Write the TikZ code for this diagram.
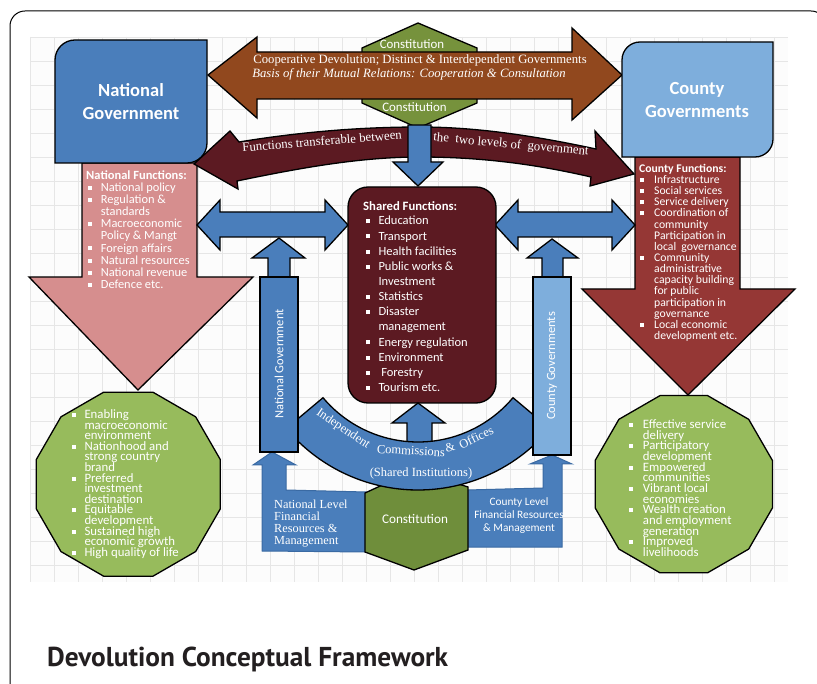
\documentclass[tikz,border=0pt]{standalone}
\usepackage{fontspec}
\setmainfont{Liberation Serif}
\newfontfamily\calfont{Carlito}
\newfontfamily\titlefont{PT Sans}
\usetikzlibrary{shapes.geometric}
\definecolor{nblue}{HTML}{4A7EBB}
\definecolor{nblueD}{HTML}{3A6AA3}
\definecolor{cblue}{HTML}{7EAEDC}
\definecolor{brownA}{HTML}{91481E}
\definecolor{oliveA}{HTML}{76923C}
\definecolor{oliveB}{HTML}{6F8E3B}
\definecolor{maroonA}{HTML}{5C1A22}
\definecolor{pinkA}{HTML}{D68E8E}
\definecolor{redA}{HTML}{953735}
\definecolor{lgreen}{HTML}{97BB5C}
\definecolor{gridc}{HTML}{E6E6E6}
\definecolor{titlec}{HTML}{231F20}
\newlength\bw
\newcommand\bu{\makebox[\bw][l]{\rule[1.6pt]{4pt}{4pt}}}
\newcommand\ii{\hspace*{\bw}}
\newcommand\fs{\rule{0pt}{10.5pt}}
\tikzset{
  shp/.style={draw=black, line width=1.3pt, line join=miter},
  lst/.style={anchor=north west, inner sep=0pt, align=left, text=white},
  wt/.style={text=white, inner sep=0pt},
  arcword/.style={wt, anchor=base, font=\fontsize{12.5}{14}\selectfont},
}
\begin{document}
\begin{tikzpicture}[x=1pt,y=-1pt]
\path[use as bounding box] (0,0) rectangle (817,684);
\clip (0,0) rectangle (817,684);
\fill[white] (0,0) rectangle (817,684);
% frame
\draw[line width=1pt, rounded corners=15pt] (10,11) rectangle (826,700);
% grid
\fill[black!1] (30,37) rectangle (788,582);
\foreach \gx in {30,54,...,786} \draw[gridc, line width=0.6pt] (\gx,37) -- (\gx,582);
\foreach \gy in {37,61,...,581} \draw[gridc, line width=0.6pt] (30,\gy) -- (788,\gy);

% big down arrows
\filldraw[shp, fill=pinkA] (82,163) -- (197,163) -- (197,277) -- (253,277) -- (138,390) -- (29,277) -- (82,277) -- cycle;
\filldraw[shp, fill=redA] (635,157) -- (740,157) -- (740,289) -- (795,289) -- (688,395) -- (582,289) -- (635,289) -- cycle;

% top constitution hexagon and brown double arrow
\filldraw[shp, fill=oliveA] (418,23) -- (477,48) -- (477,103) -- (418,128) -- (362,103) -- (362,48) -- cycle;
\filldraw[shp, fill=brownA] (208,75) -- (257,37) -- (257,52) -- (572,52) -- (572,28) -- (622,75) -- (572,120) -- (572,99) -- (257,99) -- (257,118) -- cycle;

% government boxes
\filldraw[shp, fill=nblue] (55,163) -- (55,60) arc[start angle=180, end angle=270, radius=20] -- (207,40) -- (207,143) arc[start angle=0, end angle=90, radius=20] -- cycle;
\filldraw[shp, fill=cblue] (622,157) -- (622,60) arc[start angle=180, end angle=270, radius=18] -- (773,42) -- (773,139) arc[start angle=0, end angle=90, radius=18] -- cycle;

% curved transferable arrow
\filldraw[shp, fill=maroonA] (194,164) -- (230,131) -- (239,142) .. controls (300,132) and (360,127) .. (420,127) .. controls (480,127) and (540,137) .. (596,149) -- (595,131) -- (634,174) -- (590,186) -- (591,177) .. controls (535,164) and (480,157) .. (420,157) .. controls (360,157) and (300,168) .. (237,181) -- (238,189) -- cycle;

% blue down arrow
\filldraw[shp, fill=nblue] (408,125) -- (431,125) -- (431,162) -- (443,162) -- (418,186) -- (393,162) -- (408,162) -- cycle;

% horizontal double arrows
\filldraw[shp, fill=nblue] (197,225) -- (220,200) -- (220,212) -- (325,212) -- (325,200) -- (348,225) -- (325,250) -- (325,237) -- (220,237) -- (220,250) -- cycle;
\filldraw[shp, fill=nblue] (495,225) -- (518,200) -- (518,212) -- (612,212) -- (612,200) -- (635,225) -- (612,250) -- (612,237) -- (518,237) -- (518,250) -- cycle;

% shared box
\filldraw[shp, fill=maroonA, rounded corners=20pt] (348,187) rectangle (496,403);

% small up arrows above vertical bars
\filldraw[shp, fill=nblue] (268,279) -- (268,258) -- (252,258) -- (279,238) -- (305,258) -- (290,258) -- (290,279) -- cycle;
\filldraw[shp, fill=nblue] (542,279) -- (542,258) -- (527,258) -- (552,239) -- (578,258) -- (563,258) -- (563,279) -- cycle;

% financial resources shapes
\filldraw[fill=nblue, draw=nblueD, line width=1pt] (262,551) -- (262,465) -- (253,465) -- (272,452) -- (296,465) -- (286,465) -- (286,490) -- (366,492) -- (366,552) -- cycle;
\filldraw[fill=nblue, draw=nblueD, line width=1pt] (467,490) -- (543,488) -- (543,464) -- (530,464) -- (552,455) -- (572,464) -- (562,464) -- (562,547) -- (467,547) -- cycle;

% bottom constitution hexagon
\filldraw[shp, fill=oliveB] (365,493) -- (365,552) -- (414,570) -- (468,550) -- (468,487) -- (415,470) -- cycle;

% center small up arrow
\filldraw[shp, fill=nblue] (407,448) -- (407,423) -- (392,423) -- (418,403) -- (445,423) -- (432,423) -- (432,448) -- cycle;

% independent commissions band
\filldraw[shp, fill=nblue] ([shift={(418,318)}]140:124) arc[start angle=140, end angle=40, radius=124] -- ([shift={(418,318)}]40:172) arc[start angle=40, end angle=140, radius=172] -- cycle;

% vertical bars
\filldraw[shp, fill=nblue] (260,277) rectangle (298,452);
\filldraw[shp, fill=cblue] (533,277) rectangle (571,455);

% outcome polygons
\node[regular polygon, regular polygon sides=12, minimum size=190.5pt, inner sep=0pt, shp, fill=lgreen] (natout) at (128.3,484.2) {};
\node[regular polygon, regular polygon sides=12, minimum size=183.5pt, inner sep=0pt, shp, fill=lgreen] (couout) at (683.8,484.2) {};

% ---------- texts ----------
\node[wt, anchor=base, font=\calfont\bfseries\fontsize{18.5}{22}\selectfont] (ng1) at (131,96.7) {National};
\node[wt, anchor=base, font=\calfont\bfseries\fontsize{18.5}{22}\selectfont] (ng2) at (131,120) {Government};
\node[wt, anchor=base, font=\calfont\bfseries\fontsize{18.5}{22}\selectfont] (cg1) at (697,95) {County};
\node[wt, anchor=base, font=\calfont\bfseries\fontsize{18.5}{22}\selectfont] (cg2) at (697,117.5) {Governments};

\node[wt, anchor=base, font=\calfont\fontsize{12.9}{14}\selectfont] (k1) at (412,48.3) {Constitution};
\node[wt, anchor=base, font=\calfont\fontsize{12.9}{14}\selectfont] (k2) at (414.5,112) {Constitution};
\node[wt, anchor=base, font=\fontsize{12.7}{14}\selectfont] (c1) at (420,63.5) {Cooperative Devolution; Distinct \& Interdependent Governments};
\node[wt, anchor=base, font=\itshape\fontsize{12.7}{14}\selectfont] (c2) at (409,77.3) {Basis of their Mutual Relations: Cooperation \& Consultation};

\node[wt, rotate=4.7, font=\fontsize{12.8}{14}\selectfont] (ft1) at (322,141) {Functions transferable between};
\node[wt, rotate=-5.3, font=\fontsize{12.8}{14}\selectfont] (ft2) at (511,145) {the\ \ two levels of\ \ government};

% words on the commissions band
\node[arcword, rotate=-34] (w1) at ([shift={(418,318)}]124:137) {Independent};
\node[arcword, rotate=-3] (w2) at ([shift={(418,318)}]93:137) {Commissions};
\node[arcword, rotate=14] (w3) at ([shift={(418,318)}]76:137) {\&};
\node[arcword, rotate=26] (w4) at ([shift={(418,318)}]64:137) {Offices};

\node[wt, anchor=base west, font=\calfont\bfseries\fontsize{12.5}{13}\selectfont] (nfh) at (86,179.3) {National Functions:};
\node[lst, font={\calfont\fontsize{12.4}{12.1}\selectfont\lineskiplimit=-100pt\setlength\bw{13.4pt}}] (nfl) at (87.3,180.9)
  {\fs\bu National policy\\ \bu Regulation \&\\ \ii standards\\ \bu Macroeconomic\\ \ii Policy \& Mangt\\ \bu Foreign affairs\\ \bu Natural resources\\ \bu National revenue\\ \bu Defence etc.};

\node[wt, anchor=base west, font=\calfont\bfseries\fontsize{11.7}{12}\selectfont] (cfh) at (639,172.3) {County Functions:};
\node[lst, font={\calfont\fontsize{11.7}{11.13}\selectfont\lineskiplimit=-100pt\setlength\bw{14pt}}] (cfl) at (640,172.9)
  {\fs\bu Infrastructure\\ \bu Social services\\ \bu Service delivery\\ \bu Coordination of\\ \ii community\\ \ii Participation in\\ \ii local\ \ governance\\ \bu Community\\ \ii administrative\\ \ii capacity building\\ \ii for public\\ \ii participation in\\ \ii governance\\ \bu Local economic\\ \ii development etc.};

\node[wt, anchor=base west, font=\calfont\bfseries\fontsize{12.7}{13}\selectfont] (sfh) at (363,210.7) {Shared Functions:};
\node[lst, font={\calfont\fontsize{12.5}{15.15}\selectfont\lineskiplimit=-100pt\setlength\bw{12.3pt}}] (sfl) at (366,214.2)
  {\fs\bu Education\\ \bu Transport\\ \bu Health facilities\\ \bu Public works \&\\ \ii Investment\\ \bu Statistics\\ \bu Disaster\\ \ii management\\ \bu Energy regulation\\ \bu Environment\\ \bu \ Forestry\\ \bu Tourism etc.};

\node[lst, font={\calfont\fontsize{12.8}{10.6}\selectfont\lineskiplimit=-100pt\setlength\bw{12.8pt}}] (nol) at (71.5,407.8)
  {\fs\bu Enabling\\ \ii macroeconomic\\ \ii environment\\ \bu Nationhood and\\ \ii strong country\\ \ii brand\\ \bu Preferred\\ \ii investment\\ \ii destination\\ \bu Equitable\\ \ii development\\ \bu Sustained high\\ \ii economic growth\\ \bu High quality of life};

\node[lst, font={\calfont\fontsize{12.8}{10.67}\selectfont\lineskiplimit=-100pt\setlength\bw{13.7pt}}] (col) at (629,417.8)
  {\fs\bu Effective service\\ \ii delivery\\ \bu Participatory\\ \ii development\\ \bu Empowered\\ \ii communities\\ \bu Vibrant local\\ \ii economies\\ \bu Wealth creation\\ \ii and employment\\ \ii generation\\ \bu Improved\\ \ii livelihoods};

\node[wt, rotate=90, font=\calfont\fontsize{12.5}{14}\selectfont] (ngv) at (279,364) {National Government};
\node[wt, rotate=90, font=\calfont\fontsize{12.5}{14}\selectfont] (cgv) at (552,366) {County Governments};

\node[wt, anchor=base, font=\fontsize{12.5}{14}\selectfont] (si) at (421,477) {(Shared Institutions)};
\node[wt, anchor=base, font=\calfont\fontsize{13.2}{14}\selectfont] (k3) at (415,523) {Constitution};

\node[lst, font={\fontsize{12.3}{12.3}\selectfont\lineskiplimit=-100pt}] (finl) at (274,497.3)
  {\fs National Level\\Financial\\Resources \&\\Management};
\node[anchor=north, inner sep=0pt, align=center, text=white, font={\calfont\fontsize{11.3}{13}\selectfont\lineskiplimit=-100pt}] (finr) at (519,495.2)
  {\fs County Level\\Financial Resources\\\& Management};

\node[anchor=base west, inner sep=0pt, text=titlec, font=\titlefont\bfseries\fontsize{27.3}{30}\selectfont] (title) at (47,666) {Devolution Conceptual Framework};
\end{tikzpicture}
\end{document}
